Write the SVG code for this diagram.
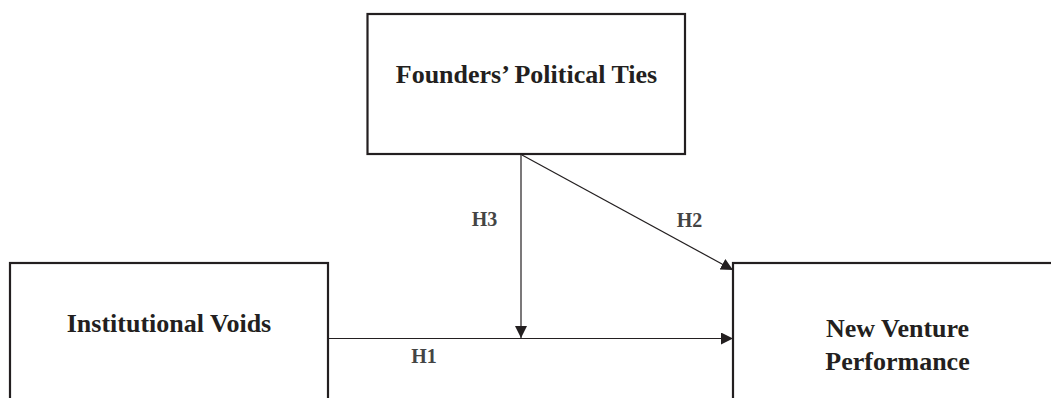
<svg xmlns="http://www.w3.org/2000/svg" width="1051" height="398" viewBox="0 0 1051 398">
<style>
.box{fill:#fff;stroke:#231f20;stroke-width:2.2}
.t{font-family:"Liberation Serif","Times New Roman",serif;font-weight:bold;font-size:26px;fill:#231f20;text-anchor:middle}
.h{font-family:"Liberation Serif","Times New Roman",serif;font-weight:bold;font-size:20px;fill:#444;text-anchor:middle}
.c{stroke:#231f20;stroke-width:1.2;fill:none}
</style>
<defs>
<marker id="ah" viewBox="0 0 12 12" refX="12" refY="6" markerWidth="12" markerHeight="12" markerUnits="userSpaceOnUse" orient="auto">
<path d="M0,0 L12,6 L0,12 Z" fill="#231f20"/>
</marker>
</defs>
<g id="founders">
<rect class="box" x="367.5" y="14" width="317.5" height="140"/>
<text class="t" x="526.5" y="83">Founders’ Political Ties</text>
</g>
<g id="voids">
<rect class="box" x="10" y="263" width="318" height="150"/>
<text class="t" x="169" y="332">Institutional Voids</text>
</g>
<g id="performance">
<rect class="box" x="733" y="263" width="330" height="150"/>
<text class="t" x="897.5" y="337">New Venture</text>
<text class="t" x="897.5" y="370">Performance</text>
</g>
<g id="connectors">
<line class="c" x1="328" y1="338.5" x2="733" y2="338.5" marker-end="url(#ah)"/>
<line class="c" x1="521" y1="154" x2="521" y2="338" marker-end="url(#ah)"/>
<line class="c" x1="522" y1="155" x2="733" y2="270" marker-end="url(#ah)"/>
<text class="h" x="484.5" y="226">H3</text>
<text class="h" x="689.5" y="226.5">H2</text>
<text class="h" x="424" y="363">H1</text>
</g>
</svg>
